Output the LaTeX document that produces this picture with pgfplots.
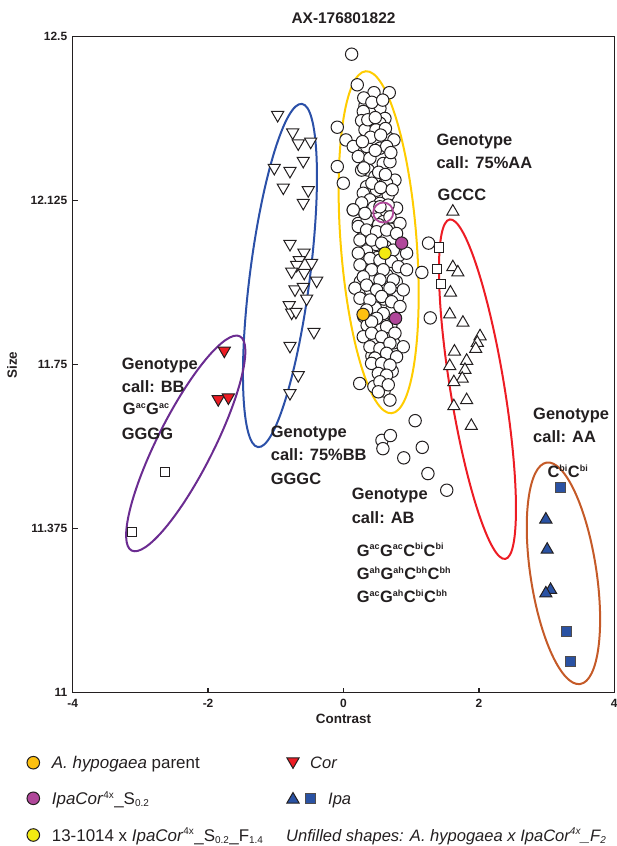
\documentclass[border=0pt]{standalone}
\usepackage{fontspec}
\setmainfont{Liberation Sans}
\usepackage{pgfplots}
\pgfplotsset{compat=1.18}
\usetikzlibrary{shapes.geometric}
\definecolor{cgold}{HTML}{FDC010}
\definecolor{cyel}{HTML}{F3EA12}
\definecolor{cmag}{HTML}{B0479A}
\definecolor{cblue}{HTML}{2A52A3}
\definecolor{cred}{HTML}{ED1C24}
\definecolor{cpurp}{HTML}{6B2C91}
\definecolor{corg}{HTML}{C55A28}
\definecolor{cellyel}{HTML}{FFCC00}
\definecolor{cellblue}{HTML}{2B50A8}
\definecolor{ink}{HTML}{231F20}
\newcommand{\annfont}{\fontsize{16.5}{16.5}\selectfont\bfseries}
\newcommand{\legfont}{\fontsize{17}{17}\selectfont}
\newcommand{\legfontr}{\fontsize{16.6}{16.6}\selectfont}
\newcommand{\sps}[1]{\textsuperscript{\fontsize{9}{9}\selectfont #1}}
\newcommand{\lsub}[1]{\textsubscript{\fontsize{10}{10}\selectfont #1}}
\newcommand{\lsup}[1]{\textsuperscript{\fontsize{10}{10}\selectfont #1}}
\begin{document}
\begin{tikzpicture}
\useasboundingbox (-72.7bp,-153.3bp) rectangle (544.3bp,692.7bp);
\begin{axis}[
  scale only axis, width=541.5bp, height=656bp,
  xmin=-4, xmax=4, ymin=11, ymax=12.5,
  xtick={-4,-2,0,2,4}, xticklabels={-4,-2,0,2,4},
  ytick={11,11.375,11.75,12.125,12.5}, yticklabels={11,11.375,11.75,12.125,12.5},
  tick align=inside, tick pos=left, major tick length=5bp,
  axis line style={line width=1.4bp, ink},
  tick style={line width=1.4bp, ink},
  tick label style={font=\fontsize{12}{12}\selectfont\bfseries, text=ink},
  xticklabel style={yshift=-3bp},
  yticklabel style={xshift=-2bp},
  clip=false,
]
% open circles (A. hypogaea x IpaCor4x F2)
\addplot[only marks, mark=*, mark size=6.2bp, mark options={draw=ink, fill=white, line width=1bp}] coordinates {
(0.121,12.460)
(-0.091,12.293)(0.037,12.264)(0.145,12.249)(-0.091,12.203)(-0.002,12.165)(0.145,12.104)
(1.257,12.028)(1.158,11.961)(1.282,11.857)(1.059,11.622)
(0.240,11.707)(0.569,11.577)(0.693,11.588)(0.583,11.558)(0.891,11.537)(1.164,11.561)(1.248,11.501)(1.526,11.463)
(0.204,12.390)(0.451,12.372)(0.677,12.372)(0.318,12.342)(0.539,12.336)(0.391,12.325)(0.293,12.329)
(0.613,12.313)(0.268,12.308)(0.539,12.302)(0.318,12.287)(0.480,12.287)(0.662,12.268)(0.746,12.264)
(0.342,12.249)(0.539,12.245)(0.638,12.249)(0.219,12.226)(0.391,12.222)(0.588,12.210)(0.367,12.195)
(0.687,12.214)(0.268,12.195)(0.465,12.180)(0.761,12.172)(0.638,12.165)(0.342,12.157)(0.490,12.149)
(0.293,12.142)(0.662,12.138)(0.391,12.127)(0.539,12.119)(0.318,12.096)(0.785,12.108)(0.490,12.088)
(0.638,12.100)(0.219,12.073)(0.342,12.069)(0.736,12.073)(0.588,12.077)
(0.30,12.36)(0.42,12.35)(0.58,12.355)(0.36,12.31)(0.47,12.315)(0.62,12.29)(0.40,12.27)(0.55,12.275)
(0.28,12.26)(0.47,12.24)(0.70,12.235)(0.30,12.20)(0.52,12.19)(0.62,12.185)(0.42,12.165)(0.55,12.155)
(0.72,12.15)(0.27,12.12)(0.45,12.11)(0.66,12.115)(0.35,12.08)(0.52,12.07)(0.70,12.06)(0.28,12.04)
(0.48,12.025)(0.62,12.02)(0.34,12.01)(0.50,11.995)(0.82,12.0)(0.30,11.99)(0.45,11.95)(0.64,11.955)
(0.78,11.94)(0.25,11.94)(0.40,11.92)(0.60,11.90)(0.80,11.905)(0.47,11.88)(0.68,11.87)(0.30,11.86)
(0.55,11.83)(0.70,11.84)(0.35,11.84)(0.48,11.80)(0.62,11.81)(0.74,11.80)(0.52,11.775)(0.42,11.77)
(0.60,11.75)(0.72,11.735)(0.58,11.72)(0.60,11.69)(0.45,11.70)
(0.145,12.104)(0.318,12.096)(0.539,12.111)(0.687,12.088)(0.835,12.073)(0.219,12.066)(0.342,12.058)
(0.490,12.054)(0.638,12.058)(0.785,12.050)(0.244,12.035)(0.416,12.035)(0.564,12.028)(0.736,12.012)
(0.219,12.005)(0.933,12.005)(0.391,11.993)(0.539,11.989)(0.711,11.986)(0.244,11.978)(0.416,11.967)
(0.588,11.967)(0.810,11.974)(0.933,11.967)(0.293,11.951)(0.539,11.944)(0.736,11.944)(0.170,11.925)
(0.342,11.932)(0.490,11.921)(0.687,11.925)(0.884,11.921)(0.244,11.902)(0.391,11.898)(0.564,11.906)
(0.711,11.894)(0.342,11.875)(0.588,11.867)(0.835,11.883)(0.490,11.856)(0.416,11.848)(0.638,11.837)
(0.293,11.814)(0.416,11.822)(0.564,11.814)(0.761,11.822)(0.391,11.791)(0.539,11.787)(0.687,11.799)
(0.884,11.791)(0.465,11.765)(0.638,11.776)(0.785,11.768)(0.416,11.753)(0.564,11.753)(0.687,11.749)
(0.515,11.730)(0.638,11.726)(0.539,11.711)(0.662,11.704)(0.515,11.688)(0.687,11.669)
};
% open down triangles
\addplot[only marks, mark=triangle*, mark size=7bp, mark options={rotate=180, draw=ink, fill=white, line width=1bp}] coordinates {
(-0.972,12.321)(-0.750,12.281)(-0.668,12.256)(-0.484,12.260)(-0.594,12.216)(-1.022,12.200)(-0.790,12.193)
(-0.889,12.155)(-0.520,12.149)(-0.594,12.120)(-0.790,12.026)(-0.583,12.006)(-0.653,11.989)(-0.691,11.978)
(-0.470,11.983)(-0.765,11.963)(-0.579,11.960)(-0.396,11.942)(-0.716,11.922)(-0.594,11.928)(-0.544,11.901)
(-0.801,11.886)(-0.765,11.869)(-0.702,11.871)(-0.436,11.825)(-0.790,11.793)(-0.668,11.726)(-0.790,11.685)
};
% open up triangles
\addplot[only marks, mark=triangle*, mark size=7bp, mark options={draw=ink, fill=white, line width=1bp}] coordinates {
(1.616,12.100)(1.616,11.973)(1.690,11.961)(1.581,11.915)(1.570,11.865)(1.765,11.846)(2.018,11.815)
(1.978,11.800)(1.954,11.786)(1.640,11.780)(1.820,11.759)(1.570,11.747)(1.795,11.738)(1.755,11.718)
(1.631,11.710)(1.820,11.669)(1.631,11.655)(1.889,11.610)
};
% open squares
\addplot[only marks, mark=square*, mark size=4.6bp, mark options={draw=ink, fill=white, line width=1bp}] coordinates {
(1.406,12.018)(1.381,11.968)(1.442,11.934)(-2.64,11.504)(-3.12,11.367)
};
% A. hypogaea parent
\addplot[only marks, mark=*, mark size=6.2bp, mark options={draw=ink, fill=cgold, line width=1bp}] coordinates {(0.29,11.865)};
% IpaCor4x S0.2
\addplot[only marks, mark=*, mark size=6.2bp, mark options={draw=ink, fill=cmag, line width=1bp}] coordinates {(0.86,12.028)(0.77,11.856)};
\addplot[only marks, mark=o, mark size=10bp, mark options={draw=cmag, line width=1.8bp}] coordinates {(0.588,12.098)};
% 13-1014 x IpaCor
\addplot[only marks, mark=*, mark size=6.2bp, mark options={draw=ink, fill=cyel, line width=1bp}] coordinates {(0.613,12.005)};
% Cor
\addplot[only marks, mark=triangle*, mark size=7bp, mark options={rotate=180, draw=ink, fill=cred, line width=1bp}] coordinates {(-1.76,11.782)(-1.85,11.671)(-1.70,11.675)};
% Ipa
\addplot[only marks, mark=triangle*, mark size=7bp, mark options={draw=ink, fill=cblue, line width=1bp}] coordinates {(2.99,11.396)(3.01,11.327)(3.06,11.235)(2.99,11.227)};
\addplot[only marks, mark=square*, mark size=5bp, mark options={draw=ink!80, fill=cblue, line width=1bp}] coordinates {(3.21,11.469)(3.30,11.139)(3.36,11.072)};
% ellipses
\node[draw=cellyel, line width=2bp, ellipse, inner sep=0, minimum width=343bp, minimum height=76bp, rotate=94.3] at (axis cs:0.52,12.03) {};
\node[draw=cred, line width=2bp, ellipse, inner sep=0, minimum width=344bp, minimum height=54bp, rotate=99.3] at (axis cs:1.98,11.694) {};
\node[draw=cellblue, line width=2bp, ellipse, inner sep=0, minimum width=346bp, minimum height=60bp, rotate=82.7] at (axis cs:-0.938,11.954) {};
\node[draw=cpurp, line width=2bp, ellipse, inner sep=0, minimum width=240bp, minimum height=56bp, rotate=63.2] at (axis cs:-2.33,11.570) {};
\node[draw=corg, line width=2bp, ellipse, inner sep=0, minimum width=224bp, minimum height=66bp, rotate=98.6] at (axis cs:3.25,11.273) {};
% annotations
\begin{scope}[every node/.style={anchor=base west, inner sep=0, font=\annfont, text=ink}]
\node at (axis cs:1.372,12.252) {Genotype};
\node at (axis cs:1.372,12.198) {call: 75\%AA};
\node at (axis cs:1.39,12.125) {GCCC};
\node at (axis cs:-3.276,11.738) {Genotype};
\node at (axis cs:-3.276,11.686) {call: BB};
\node at (axis cs:-3.26,11.635) {G\sps{ac}G\sps{ac}};
\node at (axis cs:-3.276,11.578) {GGGG};
\node at (axis cs:-1.075,11.584) {Genotype};
\node at (axis cs:-1.075,11.532) {call: 75\%BB};
\node at (axis cs:-1.075,11.475) {GGGC};
\node at (axis cs:0.121,11.441) {Genotype};
\node at (axis cs:0.121,11.387) {call: AB};
\node at (axis cs:0.195,11.3125) {G\sps{ac}G\sps{ac}C\sps{bi}C\sps{bi}};
\node at (axis cs:0.195,11.258) {G\sps{ah}G\sps{ah}C\sps{bh}C\sps{bh}};
\node at (axis cs:0.195,11.206) {G\sps{ac}G\sps{ah}C\sps{bi}C\sps{bh}};
\node at (axis cs:2.801,11.624) {Genotype};
\node at (axis cs:2.801,11.571) {call: AA};
\node at (axis cs:3.013,11.491) {C\sps{bi}C\sps{bi}};
\end{scope}
\end{axis}
% title and axis labels
\node[anchor=base, inner sep=0, font=\fontsize{15.5}{15.5}\selectfont\bfseries, text=ink] at (270.8bp,668.7bp) {AX-176801822};
\node[anchor=center, inner sep=0, font=\fontsize{13.5}{13.5}\selectfont\bfseries, text=ink] at (270.8bp,-26.3bp) {Contrast};
\node[anchor=center, inner sep=0, rotate=90, font=\fontsize{13.5}{13.5}\selectfont\bfseries, text=ink] at (-60.7bp,327.7bp) {Size};
% legend
\draw[draw=ink, fill=cgold, line width=1bp] (-39.4bp,-70bp) circle[radius=6.3bp];
\draw[draw=ink, fill=cmag, line width=1bp] (-39.4bp,-105.6bp) circle[radius=6.3bp];
\draw[draw=ink, fill=cyel, line width=1bp] (-39.4bp,-142.3bp) circle[radius=6.3bp];
\draw[draw=ink, fill=cred, line width=1bp] (214.2bp,-65.2bp) -- (226.4bp,-65.2bp) -- (220.3bp,-75.7bp) -- cycle;
\draw[draw=ink, fill=cblue, line width=1bp] (214.2bp,-110.3bp) -- (226.4bp,-110.3bp) -- (220.3bp,-99.8bp) -- cycle;
\draw[draw=ink!80, fill=cblue, line width=1bp] (232.3bp,-110.6bp) rectangle (242.3bp,-100.6bp);
\begin{scope}[every node/.style={anchor=base west, inner sep=0, text=ink}]
\node[font=\legfont] at (-21bp,-76.1bp) {\textit{A. hypogaea} parent};
\node[font=\legfont] at (-21bp,-111.7bp) {\textit{IpaCor}\lsup{4x}\_S\lsub{0.2}};
\node[font=\legfont] at (-21bp,-148.4bp) {13-1014 x \textit{IpaCor}\lsup{4x}\_S\lsub{0.2}\_F\lsub{1.4}};
\node[font=\legfontr] at (237.3bp,-76.1bp) {\textit{Cor}};
\node[font=\legfontr] at (255.3bp,-111.7bp) {\textit{Ipa}};
\node[font=\legfontr] at (213.3bp,-148.4bp) {\textit{Unfilled shapes: A. hypogaea x IpaCor\lsup{4x}\_F\lsub{2}}};
\end{scope}
\end{tikzpicture}
\end{document}
